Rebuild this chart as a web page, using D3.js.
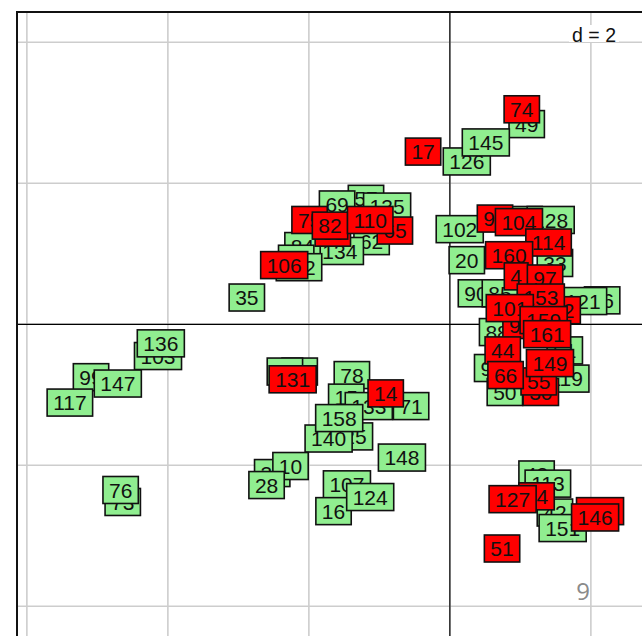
<!DOCTYPE html>
<html>
<head>
<meta charset="utf-8">
<script src="https://cdn.jsdelivr.net/npm/d3@7"></script>
<style>
  html, body { margin: 0; padding: 0; background: #fff; }
  svg { display: block; }
</style>
</head>
<body>
<svg id="chart" width="642" height="636"></svg>
<script>
// Factorial map: individuals of two groups, labelled boxes on a d = 2 grid.
const gridStep = 2;
const gridX = [-6, -4, -2, 0, 2];
const gridY = [-4, -2, 0, 2, 4];

// Group 1 (light green), drawn first
const greenLabels = ["49","126","145","57","69","135","62","134","84","47","112","35",
  "102","20","90","70","85","128","33","36","121","88","61","93","119","50",
  "103","136","99","147","117","73","76","87","92","78","15","71","133","125","140","158",
  "148","31","10","28","107","16","124","43","113","42","151"];
const greenX = [1.09,0.24,0.51,-1.19,-1.60,-0.89,-1.11,-1.56,-2.09,-2.18,-2.14,-2.88,
  0.14,0.24,0.37,1.06,0.71,1.43,1.49,2.16,1.89,0.67,1.63,0.60,1.65,0.78,
  -4.14,-4.10,-5.09,-4.71,-5.39,-4.64,-4.67,-2.13,-2.34,-1.39,-1.47,-0.55,-1.15,-1.43,-1.72,-1.57,
  -0.68,-2.52,-2.26,-2.60,-1.46,-1.65,-1.13,1.23,1.39,1.49,1.60];
const greenY = [2.84,2.31,2.58,1.78,1.70,1.67,1.18,1.04,1.11,0.93,0.81,0.38,
  1.35,0.91,0.44,1.48,0.44,1.48,0.87,0.34,0.33,-0.11,-0.37,-0.62,-0.77,-0.96,
  -0.45,-0.27,-0.75,-0.84,-1.11,-2.52,-2.35,-0.67,-0.67,-0.72,-1.04,-1.16,-1.16,-1.59,-1.62,-1.33,
  -1.89,-2.11,-2.01,-2.28,-2.27,-2.65,-2.45,-2.13,-2.26,-2.67,-2.89];

// Group 2 (red), drawn on top
const redLabels = ["74","17","75","39","82","65","110","106","98","104","114","160","4",
  "97","72","153","9","101","159","161","30","55","44","66","149","131","14",
  "54","127","100","146","51"];
const redX = [1.02,-0.38,-1.99,-1.66,-1.70,-0.78,-1.13,-2.35,0.64,0.98,1.40,0.84,0.94,
  1.35,1.60,1.29,0.92,0.85,1.33,1.38,1.29,1.26,0.75,0.79,1.42,-2.23,-0.91,
  1.23,0.89,2.13,2.06,0.74];
const redY = [3.05,2.45,1.48,1.30,1.40,1.33,1.48,0.84,1.50,1.45,1.16,0.98,0.68,
  0.65,0.20,0.38,-0.01,0.23,0.06,-0.14,-0.96,-0.81,-0.37,-0.72,-0.55,-0.78,-0.98,
  -2.44,-2.48,-2.65,-2.74,-3.18];

const xDomain = [-6.14, 2.9];
const yDomain = [-4.6, 4.43];

const svg = d3.select("#chart");
const x = d3.scaleLinear().domain(xDomain).range([17, 17 + (xDomain[1] - xDomain[0]) * 70.5]);
const y = d3.scaleLinear().domain(yDomain).range([12 + (yDomain[1] - yDomain[0]) * 70.5, 12]);

const gGrid = svg.append("g");
gGrid.selectAll("line.v").data(gridX).join("line")
  .attr("x1", d => x(d)).attr("x2", d => x(d))
  .attr("y1", y(yDomain[1])).attr("y2", y(yDomain[0]))
  .attr("stroke", "#cdcdcd").attr("stroke-width", 1.6);
gGrid.selectAll("line.h").data(gridY).join("line")
  .attr("y1", d => y(d)).attr("y2", d => y(d))
  .attr("x1", x(xDomain[0])).attr("x2", x(xDomain[1]))
  .attr("stroke", "#cdcdcd").attr("stroke-width", 1.6);

// "d = 2" scale note in the corner
const dText = svg.append("text")
  .attr("x", 0).attr("y", 0)
  .attr("font-family", "Liberation Sans, Arial, sans-serif")
  .attr("font-size", 19.5)
  .attr("fill", "#111")
  .text("d = " + gridStep);
const tw = dText.node().getComputedTextLength();
const dx0 = 616 - tw;
svg.insert("rect", "text")
  .attr("x", dx0 - 3).attr("y", 25).attr("width", tw + 6).attr("height", 17)
  .attr("fill", "#fff");
dText.attr("x", dx0).attr("y", 42);

// axes through the origin
svg.append("line").attr("x1", x(0)).attr("x2", x(0))
  .attr("y1", y(yDomain[1])).attr("y2", y(yDomain[0]))
  .attr("stroke", "#000").attr("stroke-width", 1.2);
svg.append("line").attr("y1", y(0)).attr("y2", y(0))
  .attr("x1", x(xDomain[0])).attr("x2", x(xDomain[1]))
  .attr("stroke", "#000").attr("stroke-width", 1.2);

function drawGroup(labels, xs, ys, fill) {
  const data = labels.map((l, i) => ({ l, x: xs[i], y: ys[i] }));
  const g = svg.append("g");
  const items = g.selectAll("g").data(data).join("g")
    .attr("transform", d => `translate(${x(d.x)},${y(d.y)})`);
  items.each(function (d) {
    const it = d3.select(this);
    const r = it.append("rect");
    const t = it.append("text")
      .attr("text-anchor", "middle")
      .attr("dy", "0.36em")
      .attr("font-family", "Liberation Sans, Arial, sans-serif")
      .attr("font-size", 21)
      .attr("fill", "#111")
      .text(d.l);
    const w = t.node().getComputedTextLength() + 12;
    const h = 27;
    r.attr("x", -w / 2).attr("y", -h / 2).attr("width", w).attr("height", h)
      .attr("fill", fill).attr("stroke", "#111").attr("stroke-width", 1.6);
  });
}
drawGroup(greenLabels, greenX, greenY, "#90EE90");
drawGroup(redLabels, redX, redY, "#FF0000");

// outer frame (cut by the page on the right and bottom)
svg.append("rect")
  .attr("x", x(xDomain[0])).attr("y", y(yDomain[1]))
  .attr("width", x(xDomain[1]) - x(xDomain[0]))
  .attr("height", y(yDomain[0]) - y(yDomain[1]))
  .attr("fill", "none").attr("stroke", "#111").attr("stroke-width", 2);

// page number
svg.append("text")
  .attr("x", 590).attr("y", 600)
  .attr("text-anchor", "end")
  .attr("font-family", "Open Sans, sans-serif")
  .attr("font-size", 24)
  .attr("fill", "#8a8a8a")
  .text("9");
</script>
</body>
</html>
